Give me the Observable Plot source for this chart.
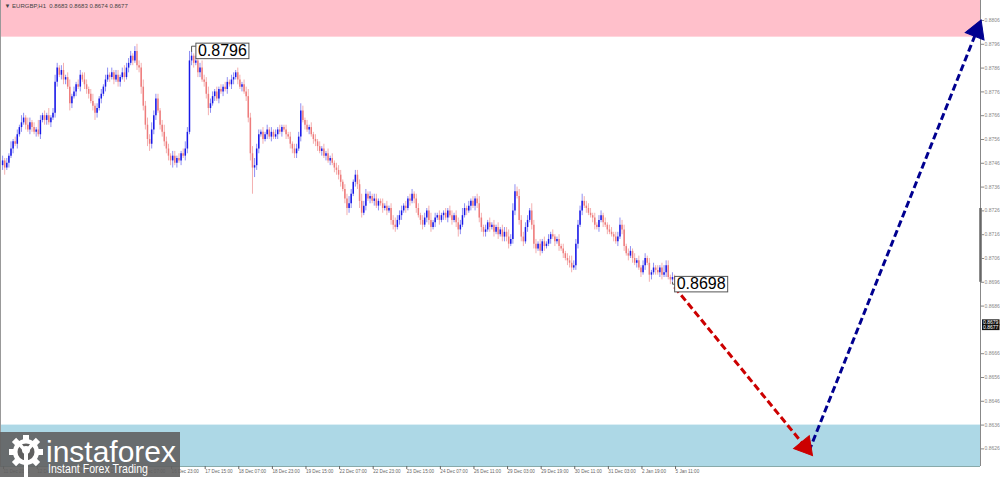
<!DOCTYPE html>
<html><head><meta charset="utf-8">
<script src="https://cdn.jsdelivr.net/npm/d3@7"></script>
<script src="https://cdn.jsdelivr.net/npm/@observablehq/plot@0.6"></script>
<style>
html,body{margin:0;padding:0;background:#fff;}
#wrap{position:relative;width:1000px;height:477px;overflow:hidden;}
#logo{position:absolute;left:0;top:432px;width:180px;height:45px;background:rgba(96,96,96,0.9);}
</style></head><body>
<div id="wrap"><div id="chart"></div>
<div id="logo"><svg width="180" height="45" font-family="Liberation Sans, Arial, sans-serif">
<g fill="#fff" transform="translate(26,20)">
<circle r="13"/>
<rect x="-3" y="-17" width="6" height="6"/>
<rect x="-3" y="-17" width="6" height="6" transform="rotate(45)"/>
<rect x="-3" y="-17" width="6" height="6" transform="rotate(90)"/>
<rect x="-3" y="-17" width="6" height="6" transform="rotate(135)"/>
<rect x="-3" y="-17" width="6" height="6" transform="rotate(225)"/>
<rect x="-3" y="-17" width="6" height="6" transform="rotate(270)"/>
<rect x="-3" y="-17" width="6" height="6" transform="rotate(315)"/>
<circle r="8.5" fill="rgb(96,96,96)"/>
<circle cy="-2" r="4"/>
<path d="M-9,-8 L-2,0 L-2,26 L2,26 L2,0 L9,-8 L6,-10 L0,-3 L-6,-10 Z"/>
</g>
<text x="46" y="30" font-size="30" fill="#fff" textLength="130" lengthAdjust="spacingAndGlyphs">instaforex</text>
<text x="48" y="41" font-size="12.5" fill="#fff" textLength="100" lengthAdjust="spacingAndGlyphs">Instant Forex Trading</text>
</svg></div>
</div>
<script>
// EURGBP H1 closes, in pips (price x 10000)
const closePips = [
8747,8744,8746,8749,8752,8755,8754,8758,8761,8763,
8765,8762,8760,8763,8761,8759,8760,8758,8764,8766,
8764,8766,8763,8765,8767,8780,8786,8783,8785,8781,
8782,8778,8771,8774,8776,8779,8778,8783,8781,8779,
8777,8775,8772,8770,8767,8769,8773,8775,8778,8781,
8783,8782,8784,8781,8783,8780,8782,8784,8782,8786,
8788,8791,8789,8793,8787,8786,8778,8770,8762,8756,
8754,8760,8766,8773,8768,8762,8759,8755,8752,8749,
8747,8749,8746,8748,8747,8750,8749,8752,8759,8789,
8791,8788,8789,8784,8786,8781,8780,8775,8769,8771,
8774,8776,8773,8777,8776,8778,8777,8780,8779,8781,
8782,8784,8781,8778,8779,8776,8774,8765,8750,8744,
8745,8752,8758,8759,8756,8758,8760,8757,8759,8757,
8758,8760,8759,8761,8760,8758,8757,8754,8752,8750,
8752,8757,8768,8764,8762,8760,8761,8758,8756,8755,
8753,8751,8752,8749,8750,8747,8748,8746,8744,8743,
8741,8738,8735,8731,8727,8729,8733,8738,8741,8737,
8730,8725,8728,8733,8731,8732,8730,8731,8728,8730,
8729,8727,8728,8726,8727,8722,8720,8719,8722,8724,
8726,8728,8727,8731,8730,8733,8731,8727,8724,8722,
8720,8723,8726,8722,8719,8721,8723,8724,8722,8724,
8725,8723,8726,8724,8722,8724,8721,8718,8720,8724,
8727,8726,8728,8730,8728,8731,8729,8723,8719,8717,
8718,8721,8719,8720,8717,8719,8716,8718,8715,8717,
8715,8712,8714,8726,8734,8732,8722,8715,8713,8719,
8722,8726,8720,8712,8710,8712,8709,8713,8711,8712,
8714,8716,8715,8713,8714,8711,8710,8708,8706,8705,
8704,8702,8703,8712,8720,8726,8730,8728,8727,8725,
8724,8723,8720,8719,8722,8724,8721,8720,8718,8717,
8716,8715,8713,8715,8720,8718,8711,8708,8707,8709,
8706,8704,8705,8702,8700,8703,8706,8704,8699,8700,
8702,8701,8700,8702,8699,8700,8703,8698,8697,8698,8697];
const firstOpenPips = 8745;
// upper / lower shadow lengths, in pips
const upWickPips = [
2,1,2,1,3,1,2,2,1,3, 2,1,3,2,1,2,1,4,2,1, 2,1,3,1,2,3,2,1,2,3, 1,2,3,1,2,1,2,2,1,3,
2,1,2,3,1,2,1,2,1,2, 3,1,2,1,2,2,1,2,3,2, 2,2,1,2,3,2,2,3,2,3, 2,3,2,2,2,1,2,3,2,2,
1,2,2,1,2,1,2,3,2,4, 2,1,2,3,2,3,2,2,3,2, 2,1,2,1,2,1,2,2,1,2, 2,1,2,2,1,2,2,3,2,3,
3,2,2,1,2,1,2,1,2,1, 2,1,2,1,1,2,1,2,1,2, 2,2,3,2,1,2,1,2,1,2, 1,2,1,2,1,2,1,2,1,2,
2,2,1,2,2,3,2,1,2,2, 2,3,2,2,1,2,1,2,2,1, 1,2,1,2,1,2,2,3,2,2, 2,1,2,1,2,2,1,2,2,1,
2,2,1,2,3,1,2,1,2,1, 1,2,1,2,2,1,2,2,2,3, 2,1,2,1,2,1,2,3,2,1, 2,1,2,1,2,1,2,1,2,2,
2,3,2,3,3,2,3,2,2,2, 2,1,3,2,2,1,2,1,2,1, 2,1,2,1,1,2,1,2,1,2, 2,3,2,2,2,2,3,2,2,2,
2,1,2,1,2,2,1,2,1,2, 2,1,2,2,3,2,2,1,2,2, 1,2,1,2,1,2,2,1,2,1, 2,1,2,1,2,3,2,2,1,2,1];
const lowWickPips = [
2,3,1,2,1,2,1,2,1,2, 1,2,1,2,2,1,2,1,2,1, 2,2,1,2,1,2,2,1,2,2, 2,1,3,2,1,2,1,2,1,2,
2,2,1,2,3,2,1,2,1,2, 1,2,1,2,1,2,2,1,2,1, 2,1,2,1,2,2,3,2,2,3, 3,2,2,2,1,2,2,2,2,2,
2,3,1,2,1,2,1,2,2,1, 2,2,1,2,2,1,2,2,3,2, 1,2,1,2,1,2,1,2,1,2, 2,1,2,1,2,1,2,2,3,11,
4,2,2,1,2,1,2,1,2,1, 1,2,1,2,1,2,1,2,2,2, 2,1,2,1,2,1,2,1,2,2, 2,1,2,1,2,1,2,1,2,2,
2,2,1,2,3,2,2,1,2,2, 3,2,1,2,1,2,1,2,1,2, 1,2,1,2,1,2,2,2,1,2, 2,1,2,1,2,1,2,2,1,2,
2,1,2,2,2,1,2,1,2,1, 2,1,2,1,2,1,2,3,2,1, 1,2,1,2,1,2,2,2,2,2, 2,1,2,1,2,1,2,1,2,2,
2,2,1,2,2,1,2,2,2,1, 2,1,2,2,2,1,2,1,2,1, 1,2,1,2,1,2,1,2,1,2, 2,2,1,2,2,1,2,1,2,1,
1,2,2,1,2,1,2,1,2,1, 1,2,1,2,1,2,2,1,2,1, 2,1,2,1,2,1,2,1,3,2, 1,2,1,2,2,1,2,1,2,1,2];

const xTickLabels = ["11 Dec 2025","12 Dec 07:00","12 Dec 23:00","15 Dec 15:00","16 Dec 07:00","16 Dec 23:00",
 "17 Dec 15:00","18 Dec 07:00","18 Dec 23:00","19 Dec 15:00","22 Dec 07:00","22 Dec 23:00","23 Dec 15:00",
 "24 Dec 07:00","26 Dec 11:00","29 Dec 03:00","29 Dec 19:00","30 Dec 11:00","31 Dec 03:00","2 Jan 19:00","5 Jan 11:00"];
const barsPerXLabel = 16;
const yTicks = [0.8626,0.8636,0.8646,0.8656,0.8666,0.8686,0.8696,0.8706,0.8716,0.8726,0.8736,0.8746,0.8756,0.8766,0.8776,0.8786,0.8796,0.8806];
const xDomain = [-1, 465.7];
const yDomain = [0.86186, 0.88144];
const sellZone = [0.8799, 0.8830];
const buyZone = [0.8600, 0.8636];
const waveIdx = [320, 384, 465];
const wavePrice = [0.8694, 0.8625, 0.8804];
const levelText = ["0.8796", "0.8698"];
const levelIdx = [93, 321];
const levelBar = [90, 319];
const levelPrice = [0.8796, 0.8698];
const headerText = "▼ EURGBP,H1  0.8683 0.8683 0.8674 0.8677";
const bidAsk = [0.8679, 0.8677];
const axisBusy = [0.8696, 0.8727];

const W = 1000, H = 477, mB = 11, mR = 20;
const bars = closePips.map((c, i) => {
  const o = i ? closePips[i - 1] : firstOpenPips;
  return {i, open: o / 1e4, close: c / 1e4,
    high: (Math.max(o, c) + upWickPips[i]) / 1e4,
    low: (Math.min(o, c) - lowWickPips[i]) / 1e4, up: c >= o};
});
// screen-space direction of each forecast leg (for the filled arrow heads)
const kx = (W - mR) / (xDomain[1] - xDomain[0]);
const ky = (H - mB) / (yDomain[1] - yDomain[0]);
const segs = [0, 1].map(k => {
  const s = {x1: waveIdx[k], y1: wavePrice[k], x2: waveIdx[k + 1], y2: wavePrice[k + 1], c: k ? "#000090" : "#cc0000"};
  const dxp = (s.x2 - s.x1) * kx, dyp = -(s.y2 - s.y1) * ky;
  const len = Math.hypot(dxp, dyp);
  s.rot = Math.atan2(dxp, -dyp) * 180 / Math.PI;
  const back = 6 / len; // head centre a few px behind the tip
  s.hx = s.x2 - (s.x2 - s.x1) * back;
  s.hy = s.y2 - (s.y2 - s.y1) * back;
  const stop = 9 / len;
  s.ex = s.x2 - (s.x2 - s.x1) * stop;
  s.ey = s.y2 - (s.y2 - s.y1) * stop;
  return s;
});
const levels = levelText.map((t, k) => ({t, i: levelIdx[k], p: levelPrice[k]}));
const connectors = levels.map((l, k) => {
  const b = bars[levelBar[k]];
  const edge = k === 0 ? b.high : b.low;
  const yl = l.p - 0.00008 - (k === 0 ? 0 : 0.0002);
  return [{i: levelBar[k], p: edge}, {i: levelBar[k], p: yl}, {i: l.i, p: yl}];
});

const svg = Plot.plot({
  width: W, height: H,
  marginTop: 0, marginBottom: mB, marginLeft: 0, marginRight: mR,
  style: {fontFamily: "Liberation Sans, Arial, sans-serif", background: "#fff"},
  x: {type: "linear", domain: xDomain, axis: null},
  y: {domain: yDomain, axis: null},
  color: {type: "identity"},
  marks: [
    Plot.rect([sellZone], {x1: xDomain[0], x2: xDomain[1], y1: d => d[0], y2: d => d[1], fill: "pink", clip: true}),
    Plot.rect([buyZone], {x1: xDomain[0], x2: xDomain[1], y1: d => d[0], y2: d => d[1], fill: "lightblue", clip: true}),
    Plot.ruleX(bars, {x: "i", y1: "low", y2: "high", stroke: d => d.up ? "#8f8ff2" : "#f4b0b0", strokeWidth: 1}),
    Plot.ruleX(bars, {x: "i", y1: "open", y2: "close", stroke: d => d.up ? "#1818e8" : "#ee7c7c", strokeWidth: 1.5}),
    Plot.ruleX([xDomain[0]], {stroke: "#999"}),
    Plot.ruleY([yDomain[0]], {stroke: "#8aa"}),
    Plot.ruleX([xDomain[1]], {stroke: "#888"}),
    Plot.ruleX([xDomain[1]], {y1: axisBusy[0], y2: axisBusy[1], stroke: "#666", strokeWidth: 2.5}),
    Plot.axisY(yTicks, {anchor: "right", tickFormat: d => d.toFixed(4), tickSize: 3, tickPadding: 1, fontSize: 5, color: "#888"}),
    Plot.axisX(xTickLabels.map((_, k) => k * barsPerXLabel), {anchor: "bottom", tickFormat: d => xTickLabels[d / barsPerXLabel],
      textAnchor: "start", tickSize: 3, tickPadding: 0.5, fontSize: 4.6, color: "#666", dx: 1}),
    ...connectors.map(c => Plot.line(c, {x: "i", y: "p", stroke: "#555", strokeWidth: 1})),
    Plot.link(segs, {x1: "x1", y1: "y1", x2: "ex", y2: "ey", stroke: "c", strokeWidth: 3, strokeDasharray: "7,3.5"}),
    Plot.dot(segs, {x: "hx", y: "hy", symbol: "triangle", r: 7.5, rotate: "rot", fill: "c", stroke: "c", strokeWidth: 1}),
    Plot.text(levels, {x: "i", y: "p", text: "t", textAnchor: "start", lineAnchor: "top", fontSize: 16, fill: "#000", className: "lvl"}),
    Plot.text(bidAsk, {x: xDomain[1], y: d => d, text: d => d.toFixed(4), textAnchor: "start", dx: 2.5, fontSize: 5, fill: "#fff", className: "bid"}),
    Plot.text([headerText], {frameAnchor: "top-left", dx: 4, dy: 3, lineAnchor: "top", fontSize: 6, fill: "#444"})
  ]
});
document.getElementById("chart").appendChild(svg);

d3.select(svg).selectAll("g.lvl text").each(function () {
  const node = this, b = node.getBBox();
  d3.select(node.parentNode).insert("rect", () => node)
    .attr("transform", node.getAttribute("transform"))
    .attr("x", b.x - 2).attr("y", b.y + 1.5).attr("width", b.width + 4).attr("height", 15.5)
    .attr("fill", "#fff").attr("stroke", "#555");
});
d3.select(svg).selectAll("g.bid text").each(function () {
  const node = this, b = node.getBBox();
  d3.select(node.parentNode).insert("rect", () => node)
    .attr("transform", node.getAttribute("transform"))
    .attr("x", b.x - 1).attr("y", b.y).attr("width", b.width + 2).attr("height", b.height)
    .attr("fill", "#111");
});
</script>
</body></html>
